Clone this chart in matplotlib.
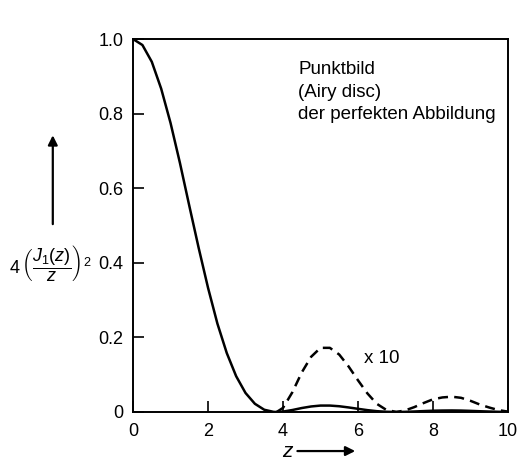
"""
Punktbild (Airy disc) der perfekten Abbildung: 4 (J1(z)/z)^2 mit 10x-Ausschnitt.
"""

import matplotlib
matplotlib.use("Agg")
import matplotlib.pyplot as plt
from matplotlib.patches import FancyArrowPatch

plt.rcParams["font.family"] = ["Liberation Sans", "DejaVu Sans"]
plt.rcParams["mathtext.fontset"] = "custom"
plt.rcParams["mathtext.rm"] = "Liberation Sans"
plt.rcParams["mathtext.it"] = "Liberation Sans:italic"

# --- Werte ---
z_main = [0.0, 0.25, 0.5, 0.75, 1.0, 1.25, 1.5, 1.75, 2.0, 2.25, 2.5, 2.75,
          3.0, 3.25, 3.5, 3.75, 3.83, 4.0, 4.25, 4.5, 4.75, 5.0, 5.25, 5.5,
          5.75, 6.0, 6.25, 6.5, 6.75, 7.02, 7.25, 7.5, 7.75, 8.0, 8.25, 8.5,
          8.75, 9.0, 9.25, 9.5, 9.75, 10.0]
i_main = [1.0, 0.984, 0.939, 0.867, 0.775, 0.668, 0.553, 0.440, 0.333, 0.237,
          0.158, 0.096, 0.051, 0.022, 0.006, 0.0003, 0.0, 0.0011, 0.0053,
          0.0106, 0.0148, 0.0172, 0.0172, 0.0154, 0.0122, 0.0085, 0.0050,
          0.0022, 0.0006, 0.0, 0.0004, 0.0013, 0.0024, 0.0034, 0.0039, 0.0041,
          0.0038, 0.0030, 0.0020, 0.0012, 0.0005, 0.0001]

# Nebenmaxima, zehnfach überhöht
z_x10 = [3.83, 4.0, 4.25, 4.5, 4.75, 5.0, 5.25, 5.5, 5.75, 6.0, 6.25, 6.5,
         6.75, 7.02, 7.25, 7.5, 7.75, 8.0, 8.25, 8.5, 8.75, 9.0, 9.25, 9.5,
         9.75, 10.0]
i_x10 = [0.0, 0.011, 0.053, 0.106, 0.148, 0.172, 0.172, 0.154, 0.122, 0.085,
         0.050, 0.022, 0.006, 0.0, 0.004, 0.013, 0.024, 0.034, 0.039, 0.041,
         0.038, 0.030, 0.020, 0.012, 0.005, 0.001]

x_ticks = [0, 2, 4, 6, 8, 10]
y_ticks = [0, 0.2, 0.4, 0.6, 0.8, 1.0]
y_tick_labels = ["0", "0.2", "0.4", "0.6", "0.8", "1.0"]

fig = plt.figure(figsize=(5.28, 4.65), dpi=100)
ax = fig.add_axes([0.252, 0.114, 0.710, 0.802])

ax.plot(z_main, i_main, color="black", linewidth=1.8)
ax.plot(z_x10, i_x10, color="black", linewidth=1.8, linestyle=(0, (4, 2.5)))

ax.set_xlim(0, 10)
ax.set_ylim(0, 1.0)
ax.set_xticks(x_ticks)
ax.set_yticks(y_ticks)
ax.set_yticklabels(y_tick_labels)
ax.tick_params(direction="in", length=8, width=1.2, labelsize=13)
ax.tick_params(axis="x", pad=8)
ax.tick_params(axis="y", pad=7)
for s in ax.spines.values():
    s.set_linewidth(1.4)

ax.text(4.4, 0.94, "Punktbild\n(Airy disc)\nder perfekten Abbildung",
        fontsize=13.5, va="top", ha="left", linespacing=1.4)
ax.text(6.15, 0.143, "x 10", fontsize=13.5, va="center", ha="left")

# Achsenbeschriftungen mit Pfeilen
fig.text(0.095, 0.434, r"$4\,\left(\dfrac{J_1(z)}{z}\right)^2$", fontsize=13,
         ha="center", va="center")
fig.patches.append(FancyArrowPatch(
    (0.1, 0.512), (0.1, 0.715), transform=fig.transFigure,
    arrowstyle="-|>", mutation_scale=14, linewidth=1.6, color="black"))

fig.text(0.545, 0.03, "z", fontsize=15, style="italic", ha="center", va="center")
fig.patches.append(FancyArrowPatch(
    (0.558, 0.03), (0.678, 0.03), transform=fig.transFigure,
    arrowstyle="-|>", mutation_scale=14, linewidth=1.6, color="black"))

fig.savefig("out.png", dpi=100)
